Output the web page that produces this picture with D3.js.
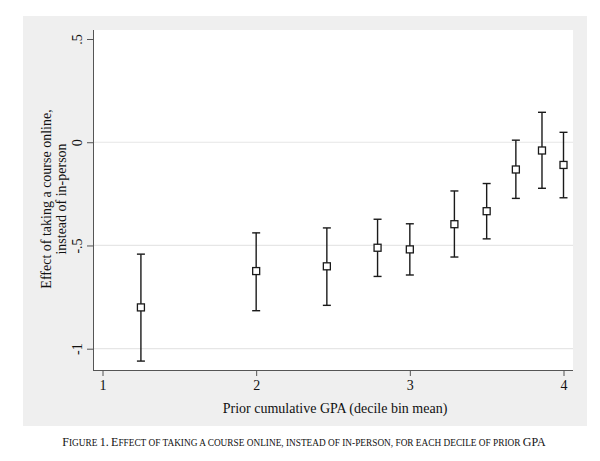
<!DOCTYPE html>
<html>
<head>
<meta charset="utf-8">
<script src="https://d3js.org/d3.v7.min.js"></script>
<style>
  body { margin: 0; background: #fff; }
  text { font-family: "Liberation Serif", "Times New Roman", serif; fill: #111; }
</style>
</head>
<body>
<svg id="chart" width="600" height="461"></svg>
<script>
// decile bin means of prior GPA and estimated effects with 95% CI
const gpaBins = [1.25, 2.0, 2.46, 2.79, 3.0, 3.29, 3.5, 3.69, 3.86, 4.0];
const effect = [-0.80, -0.624, -0.601, -0.511, -0.519, -0.397, -0.334, -0.132, -0.040, -0.110];
const ciLow = [-1.06, -0.816, -0.790, -0.650, -0.643, -0.556, -0.468, -0.272, -0.223, -0.269];
const ciHigh = [-0.542, -0.439, -0.415, -0.373, -0.395, -0.236, -0.200, 0.010, 0.145, 0.048];

const xTicks = [1, 2, 3, 4];
const yTicks = [0.5, 0, -0.5, -1];
const yTickLabels = [".5", "0", "-.5", "-1"];
const gridTicks = [0, -0.5, -1];

const caption = "Figure 1. Effect of taking a course online, instead of in-person, for each decile of prior GPA";

const svg = d3.select("#chart");

// outer graph region (Stata style)
svg.append("rect")
  .attr("x", 23).attr("y", 16)
  .attr("width", 564).attr("height", 410)
  .attr("fill", "#efefef");

// plot region
const plot = { left: 93, right: 573, top: 30, bottom: 370 };
svg.append("rect")
  .attr("x", plot.left).attr("y", plot.top)
  .attr("width", plot.right - plot.left).attr("height", plot.bottom - plot.top)
  .attr("fill", "#fff");

const x = d3.scaleLinear().domain([1, 4]).range([102.5, 563.5]);
const y = d3.scaleLinear().domain([-1, 0.5]).range([348.7, 39]);

// gridlines
svg.append("g").selectAll("line")
  .data(gridTicks)
  .enter().append("line")
  .attr("x1", plot.left).attr("x2", plot.right)
  .attr("y1", d => y(d)).attr("y2", d => y(d))
  .attr("stroke", "#e6e6e6")
  .attr("stroke-width", 1.2);

// y axis
const yAxis = svg.append("g")
  .attr("transform", "translate(" + plot.left + ",0)")
  .call(d3.axisLeft(y)
    .tickValues(yTicks)
    .tickSize(6)
    .tickPadding(4)
    .tickFormat((d, i) => yTickLabels[i]));
yAxis.select(".domain")
  .attr("d", "M0.5," + plot.top + "V" + plot.bottom)
  .attr("stroke", "#555");
yAxis.selectAll(".tick line").attr("stroke", "#555");
yAxis.selectAll(".tick text")
  .attr("transform", "rotate(-90)")
  .attr("x", 0).attr("y", -11)
  .attr("dy", 0)
  .style("text-anchor", "middle")
  .style("font-size", "14px")
  .style("font-family", "Liberation Serif");

// x axis
const xAxis = svg.append("g")
  .attr("transform", "translate(0," + plot.bottom + ")")
  .call(d3.axisBottom(x)
    .tickValues(xTicks)
    .tickSize(6)
    .tickPadding(4)
    .tickFormat(d3.format("d")));
xAxis.select(".domain")
  .attr("d", "M" + plot.left + ",0.5H" + plot.right)
  .attr("stroke", "#555");
xAxis.selectAll(".tick line").attr("stroke", "#555");
xAxis.selectAll(".tick text")
  .style("font-size", "14px")
  .style("font-family", "Liberation Serif");

// axis titles
svg.append("text")
  .attr("x", x(2.5) + 2).attr("y", 413)
  .attr("text-anchor", "middle")
  .style("font-size", "14px")
  .text("Prior cumulative GPA (decile bin mean)");

const yTitle = svg.append("text")
  .attr("transform", "translate(0,199) rotate(-90)")
  .attr("text-anchor", "middle")
  .style("font-size", "14px");
yTitle.append("tspan").attr("x", 0).attr("y", 51).text("Effect of taking a course online,");
yTitle.append("tspan").attr("x", 0).attr("y", 66).text("instead of in-person");

// error bars
const pts = gpaBins.map((g, i) => ({ g: g, e: effect[i], lo: ciLow[i], hi: ciHigh[i] }));
const cap = 4;
const bars = svg.append("g").attr("stroke", "#1a1a1a").attr("stroke-width", 1.4);
bars.selectAll(".stem").data(pts).enter().append("line")
  .attr("x1", d => x(d.g)).attr("x2", d => x(d.g))
  .attr("y1", d => y(d.lo)).attr("y2", d => y(d.hi));
bars.selectAll(".capHi").data(pts).enter().append("line")
  .attr("x1", d => x(d.g) - cap).attr("x2", d => x(d.g) + cap)
  .attr("y1", d => y(d.hi)).attr("y2", d => y(d.hi));
bars.selectAll(".capLo").data(pts).enter().append("line")
  .attr("x1", d => x(d.g) - cap).attr("x2", d => x(d.g) + cap)
  .attr("y1", d => y(d.lo)).attr("y2", d => y(d.lo));

// hollow square markers
const m = 7;
svg.append("g").selectAll("rect")
  .data(pts)
  .enter().append("rect")
  .attr("x", d => x(d.g) - m / 2)
  .attr("y", d => y(d.e) - m / 2)
  .attr("width", m).attr("height", m)
  .attr("fill", "#fff")
  .attr("stroke", "#1a1a1a")
  .attr("stroke-width", 1.3);

// caption in small caps: capitals full size, lowercase as smaller capitals
const runs = [];
for (const ch of caption) {
  const big = ch !== ch.toLowerCase() || /[0-9.]/.test(ch);
  const last = runs[runs.length - 1];
  if (last && last.big === big) last.t += ch;
  else runs.push({ big: big, t: ch });
}
svg.append("text")
  .attr("x", 304).attr("y", 446)
  .attr("text-anchor", "middle")
  .selectAll("tspan")
  .data(runs)
  .enter().append("tspan")
  .style("font-size", d => d.big ? "12px" : "9.3px")
  .text(d => d.t.toUpperCase());
</script>
</body>
</html>
